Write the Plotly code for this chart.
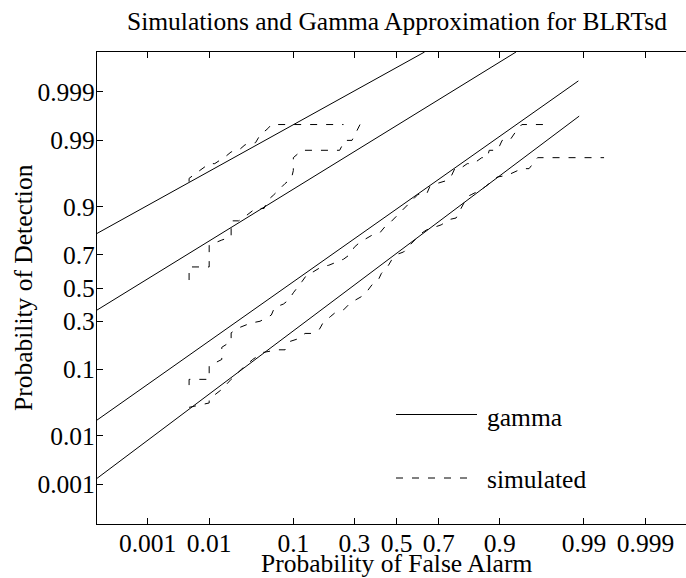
import plotly.graph_objects as go
from statistics import NormalDist

# Probability ticks shown on both normal-deviate axes
tick_probs = [0.001, 0.01, 0.1, 0.3, 0.5, 0.7, 0.9, 0.99, 0.999]
tick_text = ["0.001", "0.01", "0.1", "0.3", "0.5", "0.7", "0.9", "0.99", "0.999"]

# Gamma approximation ROC curves (false-alarm prob, detection prob)
gamma_1_pf = [0.0001, 0.636]
gamma_1_pd = [0.805, 0.9999]
gamma_2_pf = [0.0001, 0.931]
gamma_2_pd = [0.364, 0.9999]
gamma_3_pf = [0.0001, 0.988]
gamma_3_pd = [0.0187, 0.99945]
gamma_4_pf = [0.0001, 0.9883]
gamma_4_pd = [0.00135, 0.99662]

# Simulated (empirical) ROC curves
sim_1_pf = [0.005, 0.005, 0.01, 0.012, 0.015, 0.017, 0.02, 0.025, 0.03, 0.04, 0.045, 0.055, 0.06, 0.255]
sim_1_pd = [0.953, 0.958, 0.975, 0.975, 0.979, 0.981, 0.984, 0.985, 0.988, 0.989, 0.992, 0.994, 0.995, 0.995]

sim_2_pf = [0.005, 0.005, 0.01, 0.01, 0.015, 0.02, 0.02, 0.025, 0.03, 0.04,
            0.05, 0.055, 0.063, 0.074, 0.083, 0.096, 0.1, 0.1, 0.12, 0.16,
            0.24, 0.26, 0.29, 0.325]
sim_2_pd = [0.55, 0.63, 0.63, 0.75, 0.775, 0.79, 0.855, 0.855, 0.87, 0.895,
            0.895, 0.917, 0.928, 0.942, 0.95, 0.958, 0.968, 0.98, 0.985, 0.985,
            0.985, 0.99, 0.99, 0.995]

sim_3_pf = [0.005, 0.005, 0.01, 0.01, 0.015, 0.015, 0.02, 0.02, 0.025, 0.035,
            0.045, 0.06, 0.065, 0.08, 0.09, 0.1, 0.12, 0.135, 0.15, 0.175,
            0.2, 0.23, 0.255, 0.28, 0.3, 0.325, 0.35, 0.385, 0.42, 0.45,
            0.47, 0.505, 0.525, 0.555, 0.575, 0.605, 0.645, 0.66, 0.69, 0.735,
            0.75, 0.765, 0.785, 0.81, 0.83, 0.855, 0.87, 0.875, 0.895, 0.905,
            0.92, 0.93, 0.94, 0.97]
sim_3_pd = [0.063, 0.075, 0.075, 0.11, 0.13, 0.175, 0.2, 0.24, 0.265, 0.29,
            0.3, 0.335, 0.38, 0.4, 0.425, 0.47, 0.54, 0.59, 0.6, 0.63,
            0.64, 0.66, 0.675, 0.7, 0.74, 0.765, 0.78, 0.8, 0.81, 0.84,
            0.85, 0.875, 0.885, 0.905, 0.915, 0.93, 0.93, 0.945, 0.95, 0.955,
            0.96, 0.97, 0.97, 0.975, 0.975, 0.98, 0.98, 0.985, 0.985, 0.99,
            0.99, 0.993, 0.995, 0.995]

sim_4_pf = [0.005, 0.01, 0.01, 0.015, 0.02, 0.027, 0.037, 0.049, 0.07, 0.083,
            0.093, 0.108, 0.128, 0.146, 0.17, 0.18, 0.205, 0.22, 0.255, 0.275,
            0.305, 0.33, 0.355, 0.38, 0.41, 0.425, 0.46, 0.475, 0.51, 0.535,
            0.565, 0.59, 0.62, 0.645, 0.69, 0.71, 0.745, 0.77, 0.785, 0.795,
            0.81, 0.825, 0.855, 0.865, 0.885, 0.895, 0.915, 0.925, 0.94, 0.95,
            0.955, 0.96, 0.97, 0.995]
sim_4_pd = [0.03, 0.035, 0.04, 0.055, 0.075, 0.1, 0.13, 0.155, 0.165, 0.165,
            0.2, 0.21, 0.237, 0.237, 0.26, 0.29, 0.325, 0.345, 0.365, 0.395,
            0.425, 0.445, 0.475, 0.52, 0.55, 0.59, 0.64, 0.67, 0.705, 0.715,
            0.75, 0.775, 0.805, 0.82, 0.835, 0.84, 0.86, 0.865, 0.89, 0.905,
            0.925, 0.93, 0.94, 0.945, 0.955, 0.96, 0.962, 0.965, 0.97, 0.97,
            0.975, 0.98, 0.98, 0.98]

nd = NormalDist()


def probit(values):
    return [nd.inv_cdf(v) for v in values]


FONT = "Liberation Serif"
SIZE = 25.5
DASH = "7px,9px"
Z_LIM = nd.inv_cdf(0.9999)

fig = go.Figure()

for pf, pd_ in [(gamma_1_pf, gamma_1_pd), (gamma_2_pf, gamma_2_pd),
                (gamma_3_pf, gamma_3_pd), (gamma_4_pf, gamma_4_pd)]:
    fig.add_trace(go.Scatter(x=probit(pf), y=probit(pd_), mode="lines",
                             line=dict(color="black", width=1),
                             showlegend=False, hoverinfo="skip"))

for pf, pd_ in [(sim_1_pf, sim_1_pd), (sim_2_pf, sim_2_pd),
                (sim_3_pf, sim_3_pd), (sim_4_pf, sim_4_pd)]:
    fig.add_trace(go.Scatter(x=probit(pf), y=probit(pd_), mode="lines",
                             line=dict(color="black", width=1, dash=DASH),
                             showlegend=False, hoverinfo="skip"))

W, H = 686, 578
L, R, T, B = 97, 0, 52, 54
plot_w = W - L - R
x_scale = 80.55  # pixels per normal deviate along x
x_max = -Z_LIM + plot_w / x_scale

axis_common = dict(
    tickvals=probit(tick_probs), ticktext=tick_text,
    ticks="inside", ticklen=6, tickwidth=1, tickcolor="black",
    showline=True, linecolor="black", linewidth=1.3,
    showgrid=False, zeroline=False,
    tickfont=dict(family=FONT, size=SIZE, color="black"),
)

fig.update_layout(
    width=W, height=H,
    margin=dict(l=L, r=R, t=T, b=B),
    paper_bgcolor="white", plot_bgcolor="white",
    xaxis=dict(range=[-Z_LIM, x_max], mirror="ticks", ticklabelstandoff=-4,
               **axis_common),
    yaxis=dict(range=[-Z_LIM, Z_LIM], mirror=False, ticklabelstandoff=-4,
               **axis_common),
    showlegend=False,
)


def px_x(p):
    return (p - L) / plot_w


def px_y(p):
    return (H - B - p) / (H - T - B)


annotations = [
    dict(text="Simulations and Gamma Approximation for BLRTsd",
         x=px_x(396.5), y=px_y(21), xanchor="center", yanchor="middle"),
    dict(text="Probability of False Alarm",
         x=px_x(396.5), y=px_y(563), xanchor="center", yanchor="middle"),
    dict(text="Probability of Detection", textangle=-90,
         x=px_x(23), y=px_y(288), xanchor="center", yanchor="middle"),
    dict(text="gamma", x=px_x(485), y=px_y(418), xanchor="left", yanchor="middle"),
    dict(text="simulated", x=px_x(485), y=px_y(479), xanchor="left", yanchor="middle"),
]
fig.update_layout(annotations=[
    dict(a, xref="paper", yref="paper", showarrow=False,
         font=dict(family=FONT, size=SIZE, color="black"))
    for a in annotations
])

# Legend samples
fig.add_shape(type="line", xref="paper", yref="paper",
              x0=px_x(396), x1=px_x(477), y0=px_y(414.5), y1=px_y(414.5),
              line=dict(color="black", width=1))
fig.add_shape(type="line", xref="paper", yref="paper",
              x0=px_x(396), x1=px_x(468), y0=px_y(478), y1=px_y(478),
              line=dict(color="black", width=1, dash=DASH))

fig.write_html("out.html")
